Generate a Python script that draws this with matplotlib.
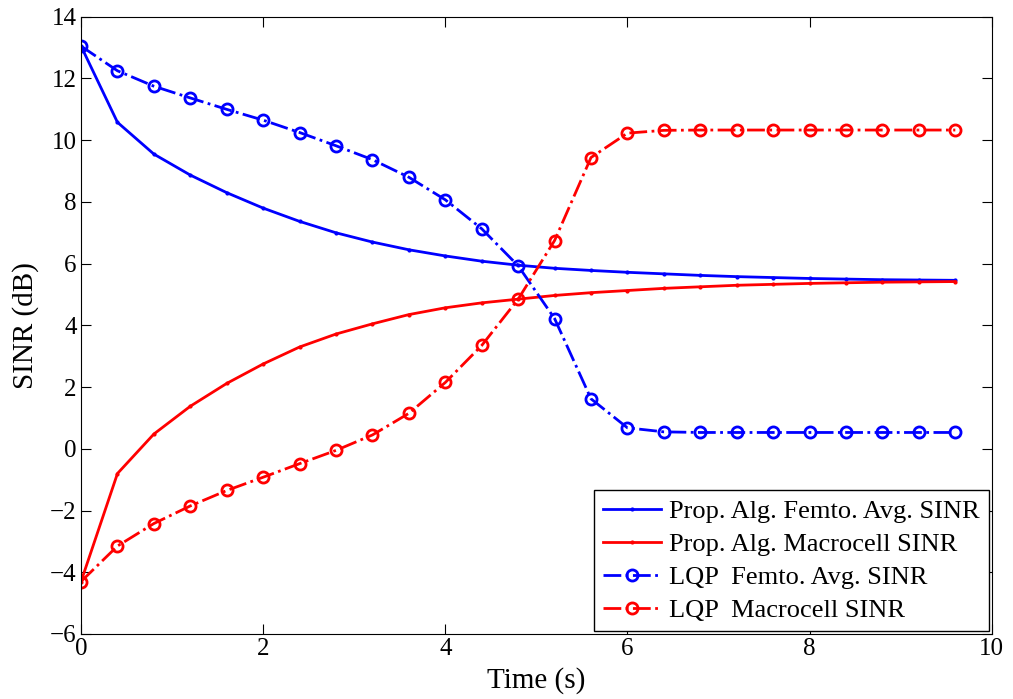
import matplotlib
matplotlib.use('Agg')
import matplotlib.pyplot as plt

# time axis (s)
time = [0.0, 0.4, 0.8, 1.2, 1.6, 2.0, 2.4, 2.8, 3.2, 3.6, 4.0, 4.4, 4.8,
        5.2, 5.6, 6.0, 6.4, 6.8, 7.2, 7.6, 8.0, 8.4, 8.8, 9.2, 9.6]

prop_femto = [13.05, 10.58, 9.55, 8.87, 8.30, 7.80, 7.37, 7.00, 6.70, 6.45, 6.25, 6.08, 5.95,
              5.85, 5.78, 5.72, 5.67, 5.62, 5.58, 5.55, 5.52, 5.50, 5.48, 5.47, 5.46]
prop_macro = [-4.30, -0.80, 0.48, 1.38, 2.12, 2.75, 3.30, 3.72, 4.05, 4.35, 4.57, 4.73, 4.85,
              4.97, 5.06, 5.13, 5.20, 5.25, 5.30, 5.33, 5.36, 5.38, 5.40, 5.41, 5.42]
lqp_femto = [13.05, 12.25, 11.75, 11.37, 11.00, 10.65, 10.25, 9.82, 9.37, 8.80, 8.07, 7.13, 5.93,
             4.22, 1.62, 0.68, 0.55, 0.53, 0.53, 0.53, 0.53, 0.53, 0.53, 0.53, 0.53]
lqp_macro = [-4.30, -3.15, -2.42, -1.85, -1.35, -0.92, -0.48, -0.05, 0.45, 1.15, 2.15, 3.35, 4.85,
             6.75, 9.44, 10.23, 10.32, 10.33, 10.33, 10.33, 10.33, 10.33, 10.33, 10.33, 10.33]

labels = ['Prop. Alg. Femto. Avg. SINR', 'Prop. Alg. Macrocell SINR',
          'LQP  Femto. Avg. SINR', 'LQP  Macrocell SINR']

plt.rcParams['font.family'] = ['Liberation Serif', 'DejaVu Serif']

fig = plt.figure(figsize=(10.13, 6.99), dpi=100)
ax = fig.add_axes([0.08, 0.093, 0.899, 0.883])

ax.plot(time, prop_femto, 'b.-', lw=2, ms=4, label=labels[0])
ax.plot(time, prop_macro, 'r.-', lw=2, ms=4, label=labels[1])
ax.plot(time, lqp_femto, 'bo-.', lw=2, ms=8, mfc='none', mew=2, label=labels[2])
ax.plot(time, lqp_macro, 'ro-.', lw=2, ms=8, mfc='none', mew=2, label=labels[3])

ax.set_xlim(0, 10)
ax.set_ylim(-6, 14)
ax.set_xticks(range(0, 11, 2))
ax.set_yticks(range(-6, 15, 2))
ax.set_yticklabels([str(v).replace('-', '\u2212') for v in range(-6, 15, 2)])
ax.tick_params(direction='in', top=True, right=True, labelsize=18, length=7, pad=3)
ax.set_xlabel('Time (s)', fontsize=21, labelpad=5)
ax.set_ylabel('SINR (dB)', fontsize=21, labelpad=8)

leg = ax.legend(loc='lower right', fontsize=19, fancybox=False, framealpha=1,
                edgecolor='black', borderaxespad=0.1, handlelength=2.2,
                handletextpad=0.3, labelspacing=0.36, borderpad=0.35)
leg.get_frame().set_linewidth(1)

fig.savefig('out.png', dpi=100)
